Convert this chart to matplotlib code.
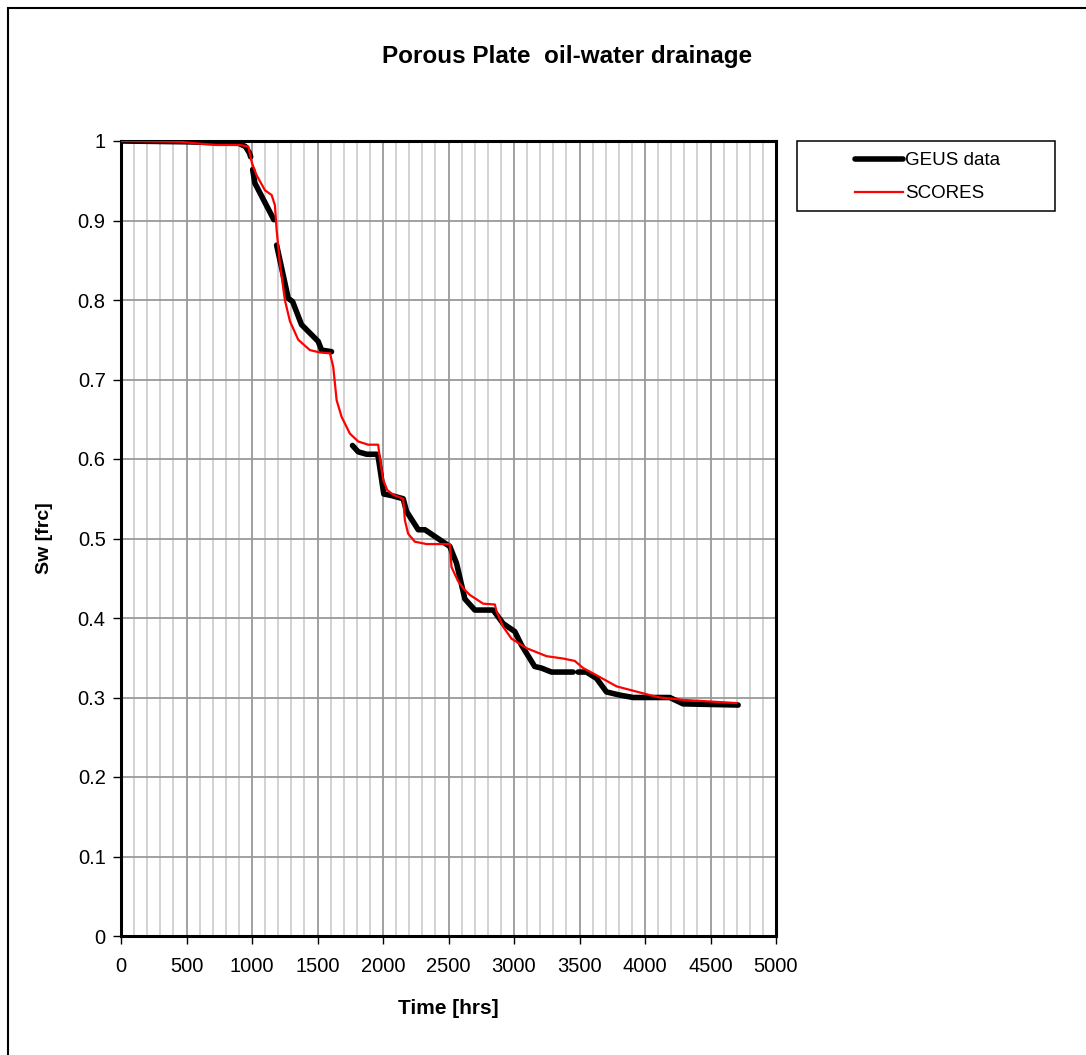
import numpy as np
import matplotlib
matplotlib.use("Agg")
import matplotlib.pyplot as plt
from matplotlib.patches import Rectangle
from matplotlib.ticker import MultipleLocator

plt.rcParams['font.family'] = ['Liberation Sans', 'DejaVu Sans']

# GEUS data (NaN = gap in the measured record)
geus_t = [0, 500, 900, 950, 980, 990, np.nan,
          1005, 1022, 1167, np.nan,
          1188, 1277, 1310, 1378, 1505, 1531, 1607, np.nan,
          1767, 1811, 1875, 1951, 1963, 2006, 2065, 2154, 2180, 2269, 2320, 2510,
          2561, 2625, 2701, 2841, 2917, 3006, 3057, 3158, 3210, 3286, 3451, np.nan,
          3489, 3553, 3630, 3706, 3808, 3910, 4189, 4291, 4711]
geus_sw = [1.0, 0.999, 0.997, 0.993, 0.985, 0.98, np.nan,
           0.964, 0.947, 0.901, np.nan,
           0.869, 0.802, 0.798, 0.769, 0.748, 0.737, 0.735, np.nan,
           0.617, 0.609, 0.606, 0.606, 0.603, 0.556, 0.554, 0.550, 0.534, 0.511, 0.511, 0.490,
           0.469, 0.424, 0.410, 0.410, 0.393, 0.383, 0.366, 0.339, 0.337, 0.332, 0.332, np.nan,
           0.332, 0.332, 0.324, 0.307, 0.303, 0.300, 0.300, 0.292, 0.2905]

# SCORES simulation
scores_t = [0, 450, 577, 730, 908, 972, 997, 1009, 1035, 1099, 1150, 1175, 1188, 1213,
            1251, 1290, 1353, 1442, 1518, 1595, 1620, 1646, 1684, 1747, 1811, 1887, 1963,
            1976, 2001, 2032, 2078, 2154, 2167, 2192, 2243, 2332, 2510, 2523, 2574, 2620,
            2663, 2765, 2854, 2867, 2917, 2981, 3096, 3248, 3375, 3464, 3528, 3630, 3783,
            4037, 4113, 4291, 4697]
scores_sw = [1.0, 0.999, 0.997, 0.995, 0.995, 0.993, 0.974, 0.968, 0.957, 0.938, 0.932, 0.919,
             0.888, 0.846, 0.800, 0.773, 0.750, 0.737, 0.734, 0.733, 0.716, 0.674, 0.653,
             0.632, 0.622, 0.618, 0.618, 0.601, 0.574, 0.561, 0.555, 0.550, 0.523, 0.506,
             0.496, 0.493, 0.493, 0.464, 0.446, 0.436, 0.429, 0.418, 0.417, 0.408, 0.389,
             0.374, 0.362, 0.352, 0.349, 0.346, 0.337, 0.328, 0.314, 0.303, 0.300, 0.297,
             0.293]

x_ticks = [0, 500, 1000, 1500, 2000, 2500, 3000, 3500, 4000, 4500, 5000]
y_ticks = [0, 0.1, 0.2, 0.3, 0.4, 0.5, 0.6, 0.7, 0.8, 0.9, 1]
y_labels = ['0', '0.1', '0.2', '0.3', '0.4', '0.5', '0.6', '0.7', '0.8', '0.9', '1']

W, H = 1086, 1055
fig = plt.figure(figsize=(W / 100, H / 100), dpi=100)
ax = fig.add_axes([121 / W, 1 - 936 / H, (776 - 121) / W, (936 - 141) / H])

ax.set_xlim(0, 5000)
ax.set_ylim(0, 1)
ax.set_xticks(x_ticks)
ax.set_xticklabels([str(v) for v in x_ticks])
ax.set_yticks(y_ticks)
ax.set_yticklabels(y_labels)
ax.xaxis.set_minor_locator(MultipleLocator(100))

ax.grid(True, which='minor', axis='x', color='#d2d2d2', lw=1.4, zorder=0)
ax.grid(True, which='major', axis='x', color='#9a9a9a', lw=1.3, zorder=0)
ax.grid(True, which='major', axis='y', color='#9a9a9a', lw=1.3, zorder=0)
ax.set_axisbelow(True)

ax.tick_params(axis='y', which='major', direction='out', length=6, width=1,
               labelsize=14.5, colors='black', pad=5)
ax.tick_params(axis='x', which='major', direction='out', length=6, width=1,
               labelsize=14.5, colors='black', pad=9)
ax.tick_params(axis='x', which='minor', length=0)
for s in ax.spines.values():
    s.set_linewidth(2.2)
    s.set_color('black')

ax.plot(geus_t, geus_sw, color='black', lw=4, solid_capstyle='round', label='GEUS data', zorder=3)
ax.plot(scores_t, scores_sw, color='#ff0000', lw=1.6, label='SCORES', zorder=4)

ax.set_xlabel('Time [hrs]', fontsize=15, fontweight='bold', labelpad=17)
ax.set_ylabel('Sw [frc]', fontsize=14, fontweight='bold', labelpad=18)

fig.text(567 / W, 1 - 57 / H, 'Porous Plate  oil-water drainage', ha='center', va='center',
         fontsize=17.5, fontweight='bold')

# legend box and entries
fig.add_artist(Rectangle((797 / W, 1 - 211 / H), (1055 - 797) / W, 70 / H,
                         transform=fig.transFigure, fill=False, edgecolor='black', lw=1.1))
leg = fig.legend(loc='upper left', bbox_to_anchor=(855 / W, 1 - 152 / H), frameon=False,
                 fontsize=13.5, handlelength=2.56, handletextpad=0.1, borderpad=0,
                 labelspacing=0.85, borderaxespad=0)

# figure frame (left and top edges visible)
fig.add_artist(Rectangle((8 / W, -0.1), 1.2, 1 - 8 / H + 0.1, transform=fig.transFigure,
                         fill=False, edgecolor='black', lw=1.5))

fig.savefig('out.png', dpi=100)
